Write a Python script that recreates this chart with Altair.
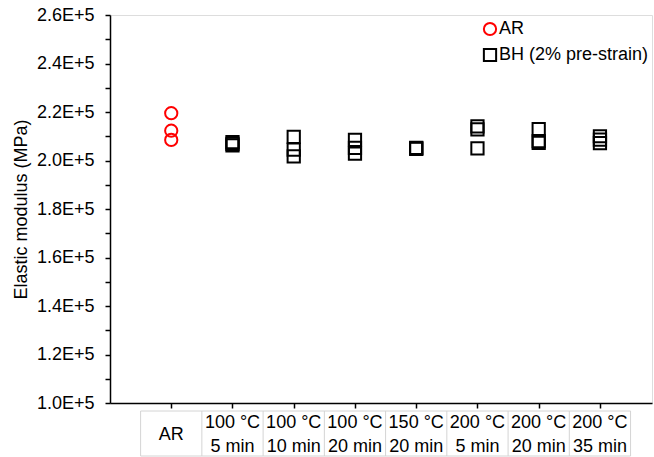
import altair as alt
import pandas as pd

# Heat-treatment conditions (table row under the x axis)
groups = [
    "AR",
    "100 °C\n5 min",
    "100 °C\n10 min",
    "100 °C\n20 min",
    "150 °C\n20 min",
    "200 °C\n5 min",
    "200 °C\n20 min",
    "200 °C\n35 min",
]
series_names = ["AR", "BH (2% pre-strain)"]
group_series = ["AR"] + ["BH (2% pre-strain)"] * 7

# Measured elastic modulus (MPa), three specimens per condition
modulus = [
    [219500, 212300, 208500],
    [207600, 206200, 206900],
    [209700, 204500, 201700],
    [208500, 205200, 202800],
    [205200, 204800, 205000],
    [214100, 212800, 205000],
    [212900, 208000, 207300],
    [210000, 208600, 207200],
]

FONT = "Liberation Sans"
PLOT_W, PLOT_H = 542, 388

rows = []
for i, (g, s, vals) in enumerate(zip(groups, group_series, modulus)):
    for v in vals:
        rows.append({"pos": i + 1, "series": s, "modulus": v})
points_df = pd.DataFrame(rows)

x_scale = alt.Scale(domain=[0, 8.85], nice=False, zero=False)
x_axis = alt.Axis(
    values=list(range(1, 9)), labels=False, title=None, grid=False,
    ticks=True, tickSize=5, tickWidth=1.5, tickColor="black",
    domainColor="black", domainWidth=1.5,
)
x_enc = alt.X("pos:Q", scale=x_scale, axis=x_axis)

y_ticks = list(range(100000, 260001, 10000))
y_enc = alt.Y(
    "modulus:Q",
    scale=alt.Scale(domain=[100000, 260000], nice=False, zero=False),
    axis=alt.Axis(
        values=y_ticks,
        labelExpr="datum.value % 20000 === 0 ? format(datum.value / 100000, '.1f') + 'E+5' : ''",
        title="Elastic modulus (MPa)", titleFont=FONT, titleFontSize=18,
        titleFontWeight="normal", titleColor="black", titlePadding=6,
        labelFont=FONT, labelFontSize=18, labelColor="black", labelPadding=11,
        tickSize=5, tickWidth=1.5, tickColor="black",
        domainColor="black", domainWidth=1.5, grid=False,
    ),
)

legend = alt.Legend(
    orient="none", legendX=371, legendY=5, title=None,
    labelFont=FONT, labelFontSize=18, labelColor="black", labelOffset=0,
    symbolSize=150, symbolStrokeWidth=2, rowPadding=4,
)

scatter = alt.Chart(points_df).mark_point(filled=False, size=150, strokeWidth=2, opacity=1).encode(
    x=x_enc,
    y=y_enc,
    color=alt.Color("series:N", scale=alt.Scale(domain=series_names, range=["#ff0000", "#000000"]), legend=legend),
    shape=alt.Shape("series:N", scale=alt.Scale(domain=series_names, range=["circle", "square"]), legend=legend),
)

# Condition table drawn below the axis
table_top, table_bottom = 396, 441
bounds_df = pd.DataFrame({"pos": [i + 0.5 for i in range(9)]})
vlines = alt.Chart(bounds_df).mark_rule(color="#d4d4d4", strokeWidth=1).encode(
    x=x_enc, y=alt.value(table_top), y2=alt.value(table_bottom)
)
edge_df = pd.DataFrame({"pos": [0.5], "pos_end": [8.5]})
hline_top = alt.Chart(edge_df).mark_rule(color="#d4d4d4", strokeWidth=1).encode(
    x=x_enc, x2="pos_end:Q", y=alt.value(table_top)
)
hline_bottom = alt.Chart(edge_df).mark_rule(color="#d4d4d4", strokeWidth=1).encode(
    x=x_enc, x2="pos_end:Q", y=alt.value(table_bottom)
)
label_df = pd.DataFrame({"pos": list(range(1, 9)), "label": groups})
text_style = dict(font=FONT, fontSize=18, color="black", lineBreak="\n", lineHeight=24,
                  align="center", baseline="middle")
# two-line cells: first line centred in the upper half of the row
labels_two = alt.Chart(label_df).transform_filter(
    "indexof(datum.label, '\\n') >= 0"
).mark_text(**text_style).encode(
    x=x_enc, y=alt.value(table_top + 12), text="label:N"
)
# single-line cells: centred in the row
labels_one = alt.Chart(label_df).transform_filter(
    "indexof(datum.label, '\\n') < 0"
).mark_text(**text_style).encode(
    x=x_enc, y=alt.value((table_top + table_bottom) / 2 + 1), text="label:N"
)

chart = alt.layer(vlines, hline_top, hline_bottom, labels_two, labels_one, scatter).properties(
    width=PLOT_W, height=PLOT_H,
    autosize=alt.AutoSizeParams(type="none"),
    padding={"left": 110, "top": 15, "right": 2, "bottom": 54},
).configure_view(stroke=None).configure(background="white")

chart.save("out.html", embed_options={"renderer": "svg", "actions": False})
